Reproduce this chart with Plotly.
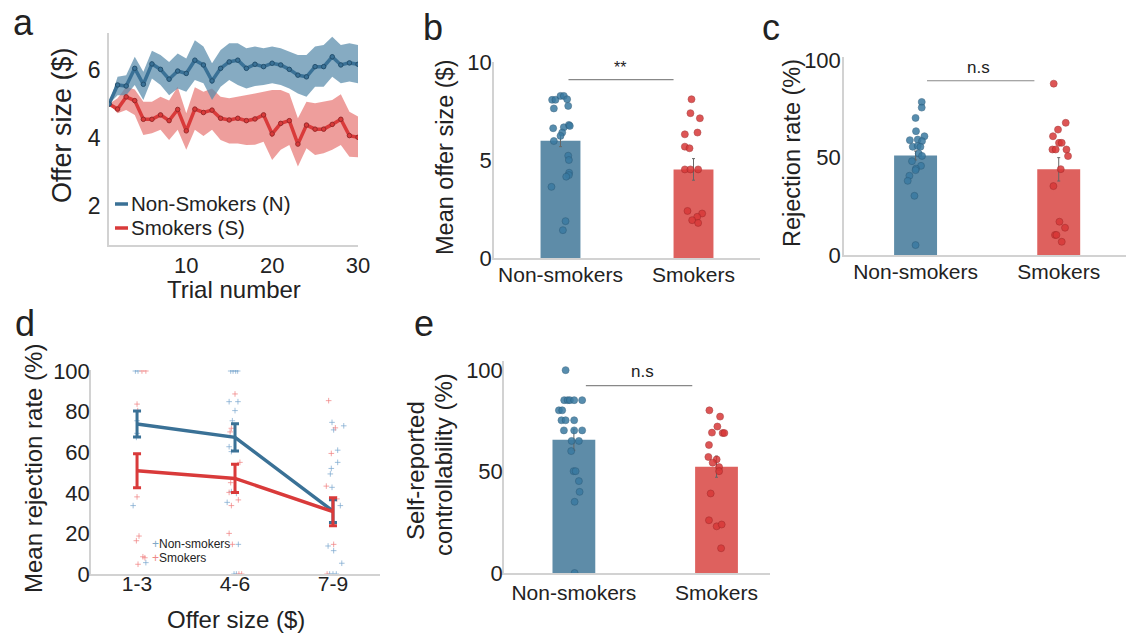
import plotly.graph_objects as go

W, H = 1126, 636
FONT = "Liberation Sans, Arial, sans-serif"
TXT = "#222222"
AX = "#d2d2d2"
BLUE_L, RED_L = "#3a7196", "#d93a3a"
BLUE_BAND, RED_BAND = "rgba(88,138,170,0.72)", "rgba(231,120,118,0.72)"
BLUE_BAR, RED_BAR = "#5e8ca8", "#de615e"
BLUE_DOT, RED_DOT = "#3a7aa1", "#d83838"

# ---------------- data ----------------
trials = list(range(1, 31))
ns_mean = [5.0, 5.56, 5.53, 6.05, 5.58, 6.18, 6.02, 5.73, 5.97, 5.9, 6.29, 6.15, 5.68, 6.05, 6.24,
           6.29, 6.05, 6.17, 6.1, 6.2, 6.15, 6.02, 5.85, 5.8, 6.1, 6.1, 6.39, 6.15, 6.21, 6.17]
ns_upper = [5.0, 5.8, 5.85, 6.39, 5.95, 6.57, 6.44, 6.24, 6.49, 6.34, 6.88, 6.69, 6.2, 6.59, 6.79,
            6.79, 6.64, 6.69, 6.64, 6.69, 6.64, 6.54, 6.44, 6.44, 6.69, 6.74, 6.98, 6.74, 6.79, 6.74]
ns_lower = [5.0, 5.26, 5.26, 5.56, 5.12, 5.75, 5.56, 5.26, 5.46, 5.36, 5.71, 5.61, 5.12, 5.51, 5.71,
            5.56, 5.46, 5.53, 5.56, 5.61, 5.56, 5.46, 5.31, 5.21, 5.51, 5.51, 5.8, 5.61, 5.66, 5.61]
s_mean = [5.0, 4.85, 5.21, 5.1, 4.55, 4.55, 4.68, 4.51, 4.84, 4.21, 4.85, 4.75, 4.82, 4.58, 4.53,
          4.58, 4.51, 4.56, 4.68, 4.12, 4.43, 4.51, 3.82, 4.38, 4.26, 4.26, 4.4, 4.55, 4.07, 4.02]
s_upper = [5.0, 5.17, 5.51, 5.43, 5.07, 5.07, 5.21, 5.1, 5.51, 4.73, 5.49, 5.36, 5.46, 5.21, 5.17,
           5.21, 5.26, 5.31, 5.36, 5.41, 5.41, 5.31, 4.58, 5.07, 5.02, 5.07, 5.12, 5.29, 4.77, 4.63]
s_lower = [5.0, 4.73, 4.82, 4.68, 4.09, 4.14, 4.24, 3.94, 4.24, 3.65, 4.24, 4.06, 4.24, 3.94, 3.84,
           3.84, 3.79, 3.8, 3.89, 3.35, 3.65, 3.79, 3.16, 3.7, 3.5, 3.55, 3.65, 3.79, 3.45, 3.43]

groups = ["Non-smokers", "Smokers"]

# b: mean offer size
b_means = [5.98, 4.52]
b_sem = [0.3, 0.55]
b_ns = [8.07, 8.07, 8.27, 8.27, 8.1, 7.76, 7.63, 6.62, 6.67, 6.79, 6.74, 6.4, 6.23, 5.97, 5.22, 5.0,
        4.35, 4.23, 4.15, 3.63, 1.88, 1.42]
b_ns_jit = [-0.063, -0.038, 0.0, 0.025, 0.05, 0.058, -0.05, -0.055, 0.025, 0.063, 0.07, 0.013, 0.0,
            -0.05, 0.058, 0.063, 0.065, 0.063, 0.043, -0.068, 0.038, 0.018]
b_s = [8.1, 7.39, 7.13, 6.31, 6.4, 5.68, 5.6, 4.52, 4.52, 4.52, 2.4, 2.27, 2.1, 1.93, 1.79]
b_s_jit = [-0.015, -0.023, 0.048, -0.065, 0.03, -0.065, -0.03, -0.065, -0.023, 0.035, -0.045, 0.065,
           0.028, -0.01, 0.035]

# c: rejection rate
c_means = [51.1, 44.0]
c_sem = [2.3, 6.0]
c_ns = [78.6, 75.7, 70.4, 63.6, 59.0, 59.3, 61.0, 58.5, 55.6, 56.0, 55.6, 52.1, 50.9, 48.2, 45.8, 44.4,
        43.6, 40.7, 38.1, 30.4, 5.1]
c_ns_jit = [0.043, 0.043, 0.0, 0.003, -0.04, 0.015, 0.062, 0.045, -0.02, 0.015, 0.034, 0.022, 0.045,
            -0.025, 0.038, 0.003, 0.0, -0.043, -0.055, -0.008, 0.0]
c_s = [88.0, 67.9, 64.4, 61.0, 57.6, 57.6, 54.2, 54.2, 54.2, 50.8, 44.1, 35.4, 17.1, 14.0, 10.3, 10.3, 6.8]
c_s_jit = [-0.035, 0.049, -0.005, -0.04, 0.002, 0.021, -0.044, -0.021, 0.054, 0.065, 0.014, -0.037,
           0.005, 0.044, -0.026, -0.016, 0.021]

# d: rejection by offer size
offer_bins = ["1-3", "4-6", "7-9"]
d_ns_mean = [73.9, 67.3, 31.0]
d_ns_sem = [6.4, 6.7, 5.6]
d_s_mean = [50.9, 47.1, 30.7]
d_s_sem = [8.4, 7.0, 6.9]
d_ns_bin = [0] * 7 + [1] * 16 + [2] * 16
d_ns_val = [100, 100, 75.5, 67.3, 33.7, 5.6, 69.3,
            100, 100, 100, 100, 84.9, 84.9, 80.5, 75.5, 62.7, 60.3, 40.6, 39.7, 35.3, 14.6, 0, 0,
            74.7, 73, 71, 61, 55, 52, 49.3, 42.7, 33.7, 25, 13.8, 11.5, 5.3, 0, 0, 0]
d_ns_jit = [-0.017, 0.01, 0.0, -0.007, -0.04, 0.09, 0.0,
            -0.044, -0.02, 0.007, 0.027, -0.06, 0.03, 0.0, -0.027, -0.06, -0.037, -0.037, 0.014, -0.08,
            0.034, -0.01, 0.014,
            -0.01, 0.11, 0.007, 0.048, 0.048, -0.017, -0.027, -0.01, 0.075, -0.005, -0.05, 0.007, 0.09,
            -0.034, 0.0, 0.034]
d_s_bin = [0] * 10 + [1] * 12 + [2] * 7
d_s_val = [100, 100, 83.7, 80.5, 38, 18.7, 16.4, 8.5, 8, 4.8,
           88.7, 71.8, 70, 55, 45, 40.2, 36.5, 33.7, 20, 14.6, 0, 0,
           85.4, 72, 59.4, 43.3, 37, 14.6, 0]
d_s_jit = [0.05, 0.09, 0.0, 0.007, 0.0, 0.02, -0.007, 0.06, 0.08, 0.01,
           0.0, -0.037, -0.05, 0.05, -0.044, -0.06, 0.034, -0.037, -0.06, -0.027, 0.04, 0.068,
           -0.044, 0.024, -0.017, -0.068, 0.04, 0.007, -0.06]

# e: self-reported controllability
e_means = [65.7, 52.4]
e_sem = [5.2, 5.2]
e_ns = [100, 85.2, 85.2, 85.2, 85.2, 85.2, 80.2, 80.2, 75.3, 75.3, 75.3, 70.3, 70.3, 70.3, 65.1, 65.1,
        60.1, 50.2, 50.2, 45.3, 40.0, 35.1, 0]
e_ns_jit = [-0.058, -0.068, -0.044, -0.028, 0.002, 0.058, -0.105, -0.082, -0.087, -0.058, 0.002, -0.07,
            0.002, 0.058, -0.016, 0.035, -0.019, -0.002, 0.012, 0.035, 0.04, 0.005, 0.005]
e_s = [80.2, 77.1, 72.2, 69.2, 69.0, 69.0, 63.1, 57.2, 56.0, 54.4, 52.2, 50.2, 39.2, 26.0, 23.0, 23.9, 12.2]
e_s_jit = [-0.05, 0.025, 0.006, -0.032, 0.043, 0.055, -0.053, -0.057, 0.001, -0.027, 0.018, 0.018,
           -0.041, -0.053, 0.001, 0.036, 0.032]


# ---------------- helpers (screen pixels -> paper) ----------------
def px(x):
    return x / W


def py(y):
    return 1 - y / H


def clamp(v):
    return min(1.0, max(0.0, v))


fig = go.Figure()

# ---- panel a ----
fig.add_trace(go.Scatter(x=trials, y=s_lower, mode="lines", line=dict(width=0), xaxis="x", yaxis="y",
                         showlegend=False, hoverinfo="skip"))
fig.add_trace(go.Scatter(x=trials, y=s_upper, mode="lines", line=dict(width=0), fill="tonexty",
                         fillcolor=RED_BAND, xaxis="x", yaxis="y", showlegend=False, hoverinfo="skip"))
fig.add_trace(go.Scatter(x=trials, y=ns_lower, mode="lines", line=dict(width=0), xaxis="x", yaxis="y",
                         showlegend=False, hoverinfo="skip"))
fig.add_trace(go.Scatter(x=trials, y=ns_upper, mode="lines", line=dict(width=0), fill="tonexty",
                         fillcolor=BLUE_BAND, xaxis="x", yaxis="y", showlegend=False, hoverinfo="skip"))
fig.add_trace(go.Scatter(x=trials, y=s_mean, mode="lines+markers", line=dict(color=RED_L, width=3.5),
                         marker=dict(size=4.5, color=RED_L, line=dict(width=1, color="#9a2a2a")),
                         xaxis="x", yaxis="y", showlegend=False))
fig.add_trace(go.Scatter(x=trials, y=ns_mean, mode="lines+markers", line=dict(color=BLUE_L, width=3.5),
                         marker=dict(size=4.5, color=BLUE_L, line=dict(width=1, color="#24506e")),
                         xaxis="x", yaxis="y", showlegend=False))


# ---- bar panels b, c, e ----
def bar_panel(xa, ya, means, sems, v_ns, j_ns, v_s, j_s):
    fig.add_trace(go.Bar(x=[0, 1], y=means, width=0.3, marker=dict(color=[BLUE_BAR, RED_BAR], line=dict(width=0)),
                         error_y=dict(type="data", array=sems, color="#666666", thickness=1, width=1.5),
                         xaxis=xa, yaxis=ya, showlegend=False))
    fig.add_trace(go.Scatter(x=[0 + j for j in j_ns], y=v_ns, mode="markers",
                             marker=dict(size=7, color=BLUE_DOT, opacity=0.85,
                                         line=dict(width=0.6, color="#2c5a78")),
                             xaxis=xa, yaxis=ya, showlegend=False))
    fig.add_trace(go.Scatter(x=[1 + j for j in j_s], y=v_s, mode="markers",
                             marker=dict(size=7, color=RED_DOT, opacity=0.85,
                                         line=dict(width=0.6, color="#a02828")),
                             xaxis=xa, yaxis=ya, showlegend=False))


bar_panel("x2", "y2", b_means, b_sem, b_ns, b_ns_jit, b_s, b_s_jit)
bar_panel("x3", "y3", c_means, c_sem, c_ns, c_ns_jit, c_s, c_s_jit)
bar_panel("x5", "y5", e_means, e_sem, e_ns, e_ns_jit, e_s, e_s_jit)

# ---- panel d ----
fig.add_trace(go.Scatter(x=[b + j for b, j in zip(d_ns_bin, d_ns_jit)], y=d_ns_val, mode="markers",
                         marker=dict(symbol="cross-thin", size=4, line=dict(width=1, color="rgba(120,165,205,0.7)")),
                         xaxis="x4", yaxis="y4", showlegend=False))
fig.add_trace(go.Scatter(x=[b + j for b, j in zip(d_s_bin, d_s_jit)], y=d_s_val, mode="markers",
                         marker=dict(symbol="cross-thin", size=4, line=dict(width=1, color="rgba(240,125,125,0.7)")),
                         xaxis="x4", yaxis="y4", showlegend=False))
fig.add_trace(go.Scatter(x=[0, 1, 2], y=d_ns_mean, mode="lines", line=dict(color=BLUE_L, width=3.5),
                         error_y=dict(type="data", array=d_ns_sem, color=BLUE_L, thickness=3, width=4),
                         xaxis="x4", yaxis="y4", showlegend=False))
fig.add_trace(go.Scatter(x=[0, 1, 2], y=d_s_mean, mode="lines", line=dict(color=RED_L, width=3.5),
                         error_y=dict(type="data", array=d_s_sem, color=RED_L, thickness=3, width=4),
                         xaxis="x4", yaxis="y4", showlegend=False))


# ---------------- axes ----------------
def xax(dom, rng, anchor, size=21, **kw):
    d = dict(domain=[clamp(px(dom[0])), clamp(px(dom[1]))], range=rng, anchor=anchor, showline=True,
             linecolor=AX, linewidth=1.5, showgrid=False, zeroline=False, ticks="", ticklen=0,
             automargin=False, tickfont=dict(size=size, color=TXT, family=FONT))
    d.update(kw)
    return d


def yax(dom, rng, anchor, size=21, **kw):
    d = dict(domain=[clamp(py(dom[1])), clamp(py(dom[0]))], range=rng, anchor=anchor, showline=True,
             linecolor=AX, linewidth=1.5, showgrid=False, zeroline=False, ticks="", ticklen=0,
             automargin=False, tickfont=dict(size=size, color=TXT, family=FONT))
    d.update(kw)
    return d


cat_kw = dict(tickvals=[0, 1], ticktext=groups, ticklabelstandoff=-3)

fig.update_layout(
    xaxis=xax((109, 358), [1, 30], "y", size=22, tickvals=[10, 20, 30], ticklabelstandoff=0),
    yaxis=yax((33, 245), [0.85, 7.09], "x", size=23, tickvals=[2, 4, 6], ticklabelstandoff=2),
    xaxis2=xax((494, 760), [-0.5, 1.5], "y2", **cat_kw),
    yaxis2=yax((62, 258), [0, 10], "x2", size=22, tickvals=[0, 5, 10], ticklabelstandoff=-4),
    xaxis3=xax((844, 1126), [-0.5, 1.47], "y3", **cat_kw),
    yaxis3=yax((57, 255), [0, 101.7], "x3", size=22, tickvals=[0, 50, 100], ticklabelstandoff=-3),
    xaxis4=xax((91, 380), [-0.47, 2.48], "y4", tickvals=[0, 1, 2], ticktext=offer_bins, ticklabelstandoff=-10),
    yaxis4=yax((370, 574), [0, 100.5], "x4", size=22, tickvals=[0, 20, 40, 60, 80, 100], ticklabelstandoff=-5),
    xaxis5=xax((504, 770), [-0.49, 1.375], "y5", tickvals=[0, 1], ticktext=groups, ticklabelstandoff=0),
    yaxis5=yax((361, 573), [0, 104.5], "x5", size=22, tickvals=[0, 50, 100], ticklabelstandoff=-5),
)

# ---------------- annotations ----------------
ann = []


def text(x, y, s, size, angle=0, xanchor="center", yanchor="middle", color=TXT, xref="paper", yref="paper"):
    ann.append(dict(x=x, y=y, xref=xref, yref=yref, text=s, showarrow=False, textangle=angle,
                    font=dict(size=size, color=color, family=FONT), xanchor=xanchor, yanchor=yanchor))


# panel letters
for lab, xx, yy in [("a", 11, 0), ("b", 421, 5), ("c", 760, 5), ("d", 13, 301), ("e", 412, 301)]:
    text(px(xx), py(yy), lab, 36, xanchor="left", yanchor="top")

# axis titles
text(px(62), py(125), "Offer size ($)", 27, angle=-90)
text(px(234), py(289), "Trial number", 24)
text(px(445), py(158), "Mean offer size ($)", 23.5, angle=-90)
text(px(792), py(153), "Rejection rate (%)", 23.5, angle=-90)
text(px(33), py(469), "Mean rejection rate (%)", 24, angle=-90)
text(px(236), py(619), "Offer size ($)", 24)
text(px(415), py(471), "Self-reported", 24, angle=-90)
text(px(443), py(465), "controllability (%)", 24, angle=-90)

# significance marks
text(0.45, 9.72, "**", 16, xref="x2", yref="y2")
text(0.44, 96.5, "n.s", 17, xref="x3", yref="y3")
text(0.48, 99.3, "n.s", 17, xref="x5", yref="y5")
text(0.04, 107.5, "n.s", 15, xref="x4", yref="y4")
text(1.01, 107.5, "*", 17, xref="x4", yref="y4")
text(1.91, 102.0, "n.s", 15, xref="x4", yref="y4")

# legends
text(px(129), py(204), "Non-Smokers (N)", 20.5, xanchor="left")
text(px(129), py(228), "Smokers (S)", 20.5, xanchor="left")
text(px(150), py(544), '<span style="color:#7fa8c8">+</span>Non-smokers', 12, xanchor="left")
text(px(150), py(558), '<span style="color:#ee8888">+</span>Smokers', 12, xanchor="left")

shapes = [
    dict(type="line", xref="paper", yref="paper", x0=px(115), x1=px(128), y0=py(204), y1=py(204),
         line=dict(color=BLUE_L, width=3.5)),
    dict(type="line", xref="paper", yref="paper", x0=px(115), x1=px(128), y0=py(228), y1=py(228),
         line=dict(color=RED_L, width=3.5)),
    dict(type="line", xref="x2", yref="y2", x0=0.06, x1=0.85, y0=9.1, y1=9.1, line=dict(color="#888888", width=1.2)),
    dict(type="line", xref="x3", yref="y3", x0=0.08, x1=0.83, y0=89.5, y1=89.5, line=dict(color="#888888", width=1.2)),
    dict(type="line", xref="x5", yref="y5", x0=0.084, x1=0.83, y0=92.4, y1=92.4, line=dict(color="#888888", width=1.2)),
]

fig.update_layout(
    width=W, height=H, margin=dict(l=0, r=0, t=0, b=0, pad=0), autosize=False,
    paper_bgcolor="white", plot_bgcolor="white",
    font=dict(family=FONT, color=TXT),
    annotations=ann, shapes=shapes, showlegend=False, barmode="overlay",
)

fig.write_html("out.html", config={"displayModeBar": False},
               post_script="document.body.style.margin='0px';document.body.style.overflow='hidden';")
